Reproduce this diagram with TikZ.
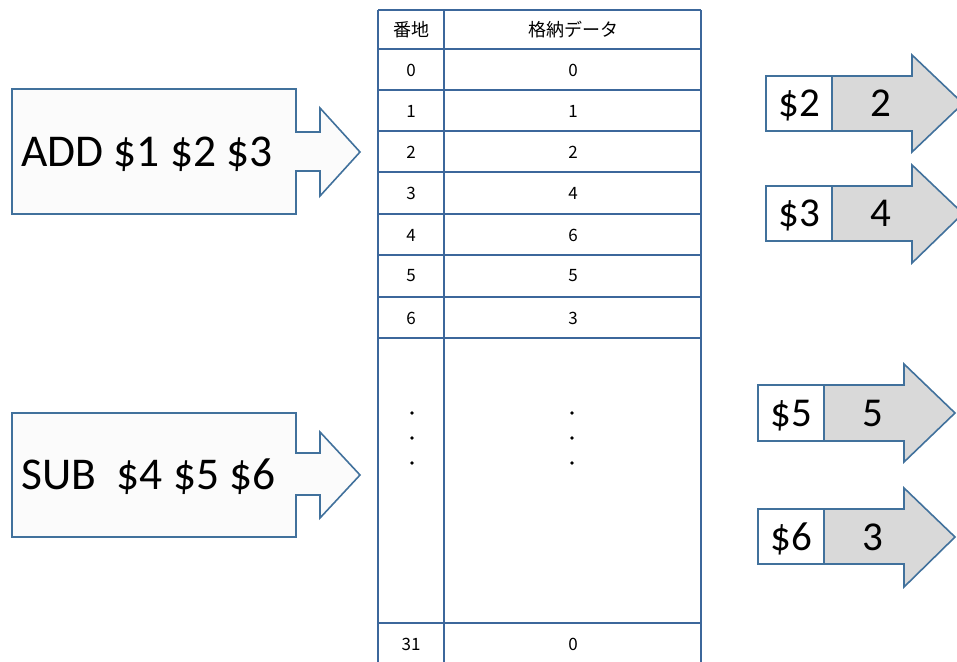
\documentclass[tikz,border=0pt]{standalone}
\usepackage{fontspec}
\setmainfont{Carlito}
\newfontfamily\jpfont{Noto Sans CJK JP}
\definecolor{edgeblue}{HTML}{41719C}
\definecolor{tableblue}{HTML}{3C679B}
\definecolor{shaftgray}{HTML}{D9D9D9}
\definecolor{lightfill}{HTML}{FBFBFB}
\tikzset{
  arrowshape/.style={draw=edgeblue, line width=1.6pt, line join=miter},
  bigtext/.style={font=\fontsize{45.5}{50}\selectfont, inner sep=0pt, anchor=base west},
  regtext/.style={font=\fontsize{41}{45}\selectfont, inner sep=0pt, anchor=base},
  celltext/.style={font=\jpfont\fontsize{17}{19}\selectfont, inner sep=0pt},
  tline/.style={draw=tableblue, line width=1.8pt},
}
\begin{document}
\begin{tikzpicture}[x=1pt,y=-1pt]
\useasboundingbox (0,0) rectangle (957,661);
\clip (0,0) rectangle (957,661);
% left arrows
\foreach \t/\b/\st/\sb/\ht/\hb/\ty/\nm/\lbl in {89/214/132/171/108/196/152/add/{ADD \$1 \$2 \$3}, 413/537/453/495/432/518/475/sub/{SUB\ \ \$4 \$5 \$6}}{
  \filldraw[arrowshape, fill=lightfill] (12,\t) -- (296,\t) -- (296,\st) -- (320,\st) -- (320,\ht) -- (360,\ty) -- (320,\hb) -- (320,\sb) -- (296,\sb) -- (296,\b) -- (12,\b) -- cycle;
  \node[bigtext] (\nm) at (21,\ty+14.5) {\lbl};
}
% table
\foreach \y in {10,49,90,131,172,214,255,297,338,623}{
  \draw[tline] (378,\y) -- (701,\y);
}
\draw[tline] (378,10) -- (378,670);
\draw[tline] (444,10) -- (444,670);
\draw[tline] (701,10) -- (701,670);
\node[celltext, font=\jpfont\fontsize{18}{20}\selectfont] (h1) at (411,30) {番地};
\node[celltext, font=\jpfont\fontsize{18}{20}\selectfont] (h2) at (573,30) {格納データ};
\foreach \a/\d/\y [count=\i] in {0/0/70, 1/1/111, 2/2/152, 3/4/193, 4/6/235, 5/5/276, 6/3/318, 31/0/644}{
  \node[celltext] (a\i) at (411,\y) {\a};
  \node[celltext] (d\i) at (573,\y) {\d};
}
\foreach \y in {413,438,463}{
  \fill (412,\y) circle (1.8);
  \fill (572,\y) circle (1.8);
}
% right arrows
\foreach \bx/\sx/\hx/\tx/\t/\b/\ht/\hb/\cy/\reg/\val/\nm in {
  766/832/912/963/76/131/55/152/103.5/2/2/r2,
  766/832/912/963/186/241/165/263/213.5/3/4/r3,
  758/824/904/955/385/441/364/462/413/5/5/r5,
  758/824/904/955/509/564/488/587/537/6/3/r6}{
  \filldraw[arrowshape, fill=shaftgray] (\bx,\t) -- (\hx,\t) -- (\hx,\ht) -- (\tx,\cy) -- (\hx,\hb) -- (\hx,\b) -- (\bx,\b) -- cycle;
  \filldraw[arrowshape, fill=white] (\bx,\t) rectangle (\sx,\b);
  \node[regtext] (\nm reg) at ({(\bx+\sx)/2},\cy+13) {\$\reg};
  \node[regtext] (\nm val) at ({\sx+49},\cy+13) {\val};
}
\end{tikzpicture}
\end{document}
